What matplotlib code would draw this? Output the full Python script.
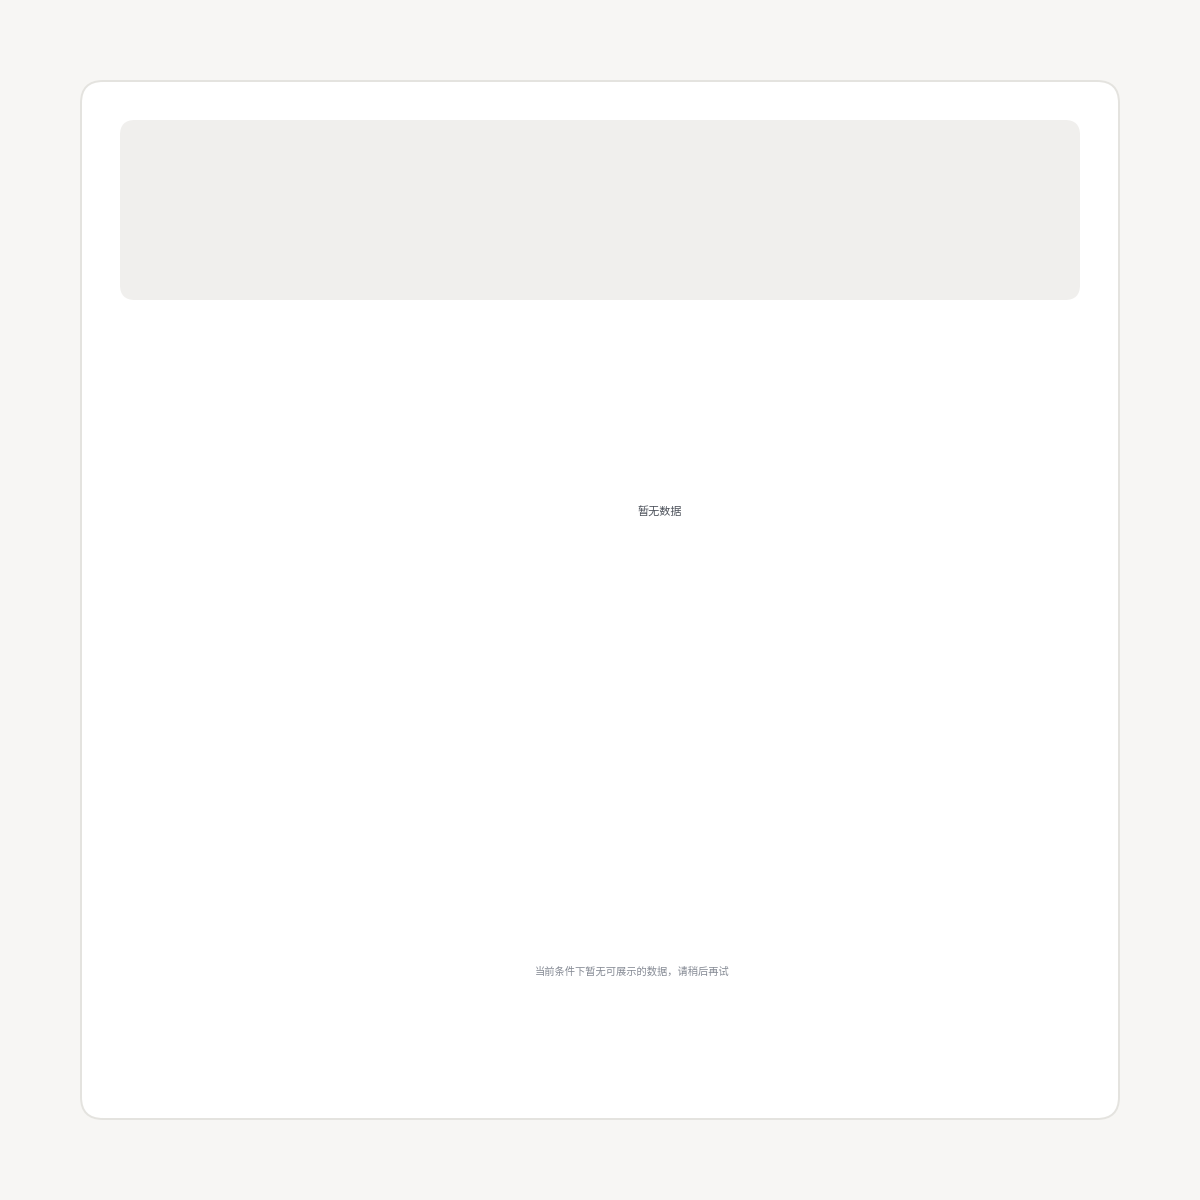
import matplotlib.pyplot as plt
from matplotlib.patches import FancyBboxPatch

plt.rcParams["font.family"] = ["Noto Sans CJK SC", "DejaVu Sans"]

# texts shown on the card (the chart itself is empty)
EMPTY_LABEL = "暂无数据"
EMPTY_HINT = "当前条件下暂无可展示的数据，请稍后再试"
SERIES_VALUES = []

PAGE_BG = "#f7f6f4"
CARD_EDGE = "#e4e3df"
HEADER_BG = "#f0efed"


def draw_card(ax):
    """Белая карточка с рамкой и серой шапкой."""
    card = FancyBboxPatch((81, 81), 1038, 1038,
                          boxstyle="round,pad=0,rounding_size=22",
                          facecolor="white", edgecolor=CARD_EDGE, linewidth=1.4)
    ax.add_patch(card)
    header = FancyBboxPatch((120, 120), 960, 180,
                            boxstyle="round,pad=0,rounding_size=15",
                            facecolor=HEADER_BG, edgecolor="none")
    ax.add_patch(header)


fig = plt.figure(figsize=(12, 12), dpi=100, facecolor=PAGE_BG)
ax = fig.add_axes([0, 0, 1, 1])
ax.set_xlim(0, 1200)
ax.set_ylim(1200, 0)
ax.axis("off")

draw_card(ax)

if not SERIES_VALUES:
    ax.text(660, 512, EMPTY_LABEL, ha="center", va="center",
            fontsize=8, fontweight="medium", color="#4d525b")
    ax.text(632, 972, EMPTY_HINT, ha="center", va="center",
            fontsize=7.4, color="#858a94")

fig.savefig("out.png", dpi=100, facecolor=PAGE_BG)
